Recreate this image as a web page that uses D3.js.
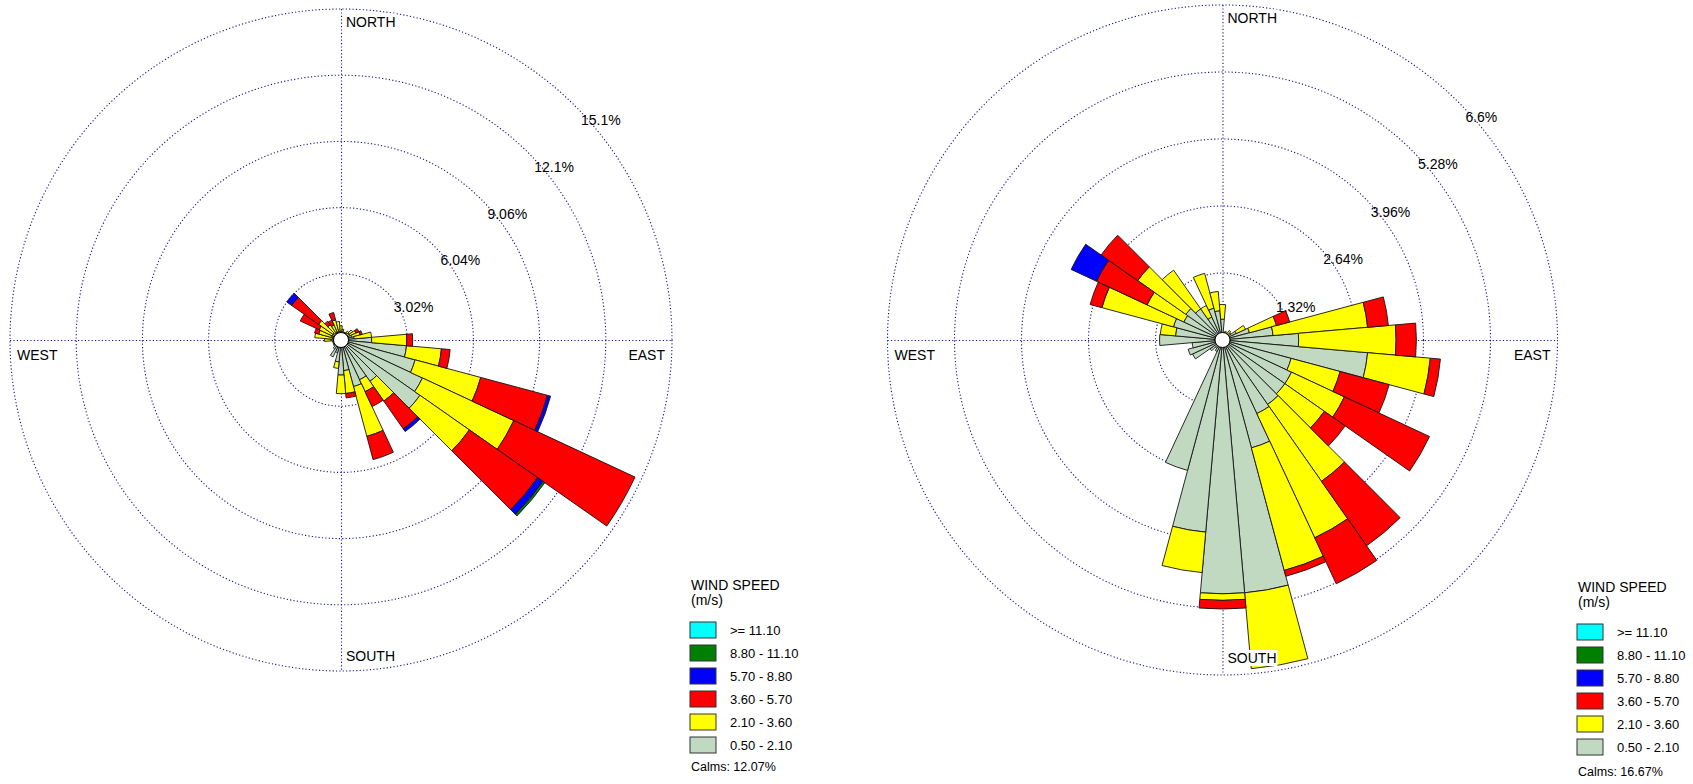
<!DOCTYPE html>
<html>
<head>
<meta charset="utf-8">
<script src="https://cdn.jsdelivr.net/npm/d3@7"></script>
<style>
  body { margin: 0; background: #fff; }
  svg { display: block; }
  text { font-family: "Liberation Sans", Arial, sans-serif; fill: #000; }
</style>
</head>
<body>
<svg id="chart" width="1693" height="784"></svg>
<script>
// Wind direction sectors (degrees, blowing from), 10° bins
const directions = d3.range(10, 361, 10);

// Speed classes (m/s), lowest first, and their fills
const speedKeys = ["s050", "s210", "s360", "s570", "s880", "s1110"];
const speedLabels = ["0.50 - 2.10", "2.10 - 3.60", "3.60 - 5.70", "5.70 - 8.80", "8.80 - 11.10", ">= 11.10"];
const speedColors = ["#c1d9c1", "#ffff00", "#ff0000", "#0000ff", "#008000", "#00ffff"];

// Station A — frequency (%) per sector and speed class
//                 10    20    30    40    50    60    70    80    90   100   110   120   130   140   150   160   170   180   190   200   210   220   230   240   250   260   270   280   290   300   310   320   330   340   350   360
const stationA_050 = [0.40, 0.35, 0.35, 0.40, 0.45, 0.45, 0.50, 0.60, 1.40, 3.00, 3.50, 4.10, 4.40, 2.30, 2.00, 2.20, 1.40, 1.60, 1.00, 0.60, 0.85, 0.50, 0.40, 0.40, 0.35, 0.40, 0.45, 0.40, 0.45, 0.45, 0.45, 0.40, 0.40, 0.40, 0.40, 0.40];
const stationA_210 = [0.10, 0.00, 0.05, 0.10, 0.20, 0.30, 0.40, 0.80, 1.60, 1.60, 3.10, 4.60, 2.75, 1.10, 0.60, 2.35, 1.05, 0.85, 0.30, 0.00, 0.00, 0.00, 0.00, 0.00, 0.00, 0.00, 0.30, 0.80, 0.60, 0.65, 0.80, 0.45, 0.35, 0.55, 0.45, 0.25];
const stationA_360 = [0.00, 0.00, 0.00, 0.00, 0.00, 0.15, 0.10, 0.00, 0.27, 0.40, 3.15, 6.10, 3.80, 1.55, 0.75, 1.10, 0.20, 0.00, 0.00, 0.00, 0.00, 0.00, 0.00, 0.00, 0.00, 0.00, 0.00, 0.00, 0.20, 0.95, 1.50, 0.20, 0.25, 0.35, 0.00, 0.00];
const stationA_570 = [0.00, 0.00, 0.00, 0.00, 0.00, 0.00, 0.00, 0.00, 0.00, 0.00, 0.15, 0.00, 0.30, 0.15, 0.00, 0.00, 0.00, 0.00, 0.00, 0.00, 0.00, 0.00, 0.00, 0.00, 0.00, 0.00, 0.00, 0.00, 0.00, 0.00, 0.27, 0.00, 0.00, 0.00, 0.00, 0.00];
const stationA_880 = [0.00, 0.00, 0.00, 0.00, 0.00, 0.00, 0.00, 0.00, 0.00, 0.00, 0.00, 0.00, 0.10, 0.00, 0.00, 0.00, 0.00, 0.00, 0.00, 0.00, 0.00, 0.00, 0.00, 0.00, 0.00, 0.00, 0.00, 0.00, 0.00, 0.00, 0.00, 0.00, 0.00, 0.00, 0.00, 0.00];
const stationA_1110 = new Array(36).fill(0);
const stationA_rings = ["3.02%", "6.04%", "9.06%", "12.1%", "15.1%"];
const stationA_calms = "Calms: 12.07%";

// Station B — frequency (%) per sector and speed class
const stationB_050 = [0.15, 0.12, 0.15, 0.15, 0.20, 0.30, 0.55, 1.00, 1.50, 2.87, 1.40, 1.50, 1.50, 1.55, 1.60, 2.20, 5.00, 5.00, 3.80, 2.66, 0.25, 0.20, 0.30, 0.65, 0.70, 0.60, 1.24, 0.93, 1.00, 0.84, 0.88, 0.75, 0.50, 0.65, 0.58, 0.41];
const stationB_210 = [0.00, 0.06, 0.00, 0.08, 0.00, 0.20, 0.55, 1.87, 1.92, 1.24, 1.00, 1.15, 0.95, 1.85, 2.70, 2.50, 1.50, 0.13, 0.80, 0.00, 0.00, 0.00, 0.00, 0.00, 0.00, 0.00, 0.00, 0.30, 1.46, 0.80, 1.16, 0.93, 0.25, 0.71, 0.38, 0.29];
const stationB_360 = [0.00, 0.00, 0.00, 0.00, 0.00, 0.00, 0.27, 0.41, 0.40, 0.20, 1.00, 1.85, 0.50, 1.55, 1.00, 0.12, 0.00, 0.17, 0.00, 0.00, 0.00, 0.00, 0.00, 0.00, 0.00, 0.00, 0.00, 0.00, 0.24, 1.10, 0.88, 0.00, 0.00, 0.00, 0.00, 0.00];
const stationB_570 = [0.00, 0.00, 0.00, 0.00, 0.00, 0.00, 0.00, 0.00, 0.00, 0.00, 0.00, 0.00, 0.00, 0.00, 0.00, 0.00, 0.00, 0.00, 0.00, 0.00, 0.00, 0.00, 0.00, 0.00, 0.00, 0.00, 0.00, 0.00, 0.00, 0.55, 0.00, 0.00, 0.00, 0.00, 0.00, 0.00];
const stationB_880 = new Array(36).fill(0);
const stationB_1110 = new Array(36).fill(0);
const stationB_rings = ["1.32%", "2.64%", "3.96%", "5.28%", "6.6%"];
const stationB_calms = "Calms: 16.67%";

const compassLabels = ["NORTH", "EAST", "SOUTH", "WEST"];

// Layout of the two panels
const panels = [
  { cx: 341, cy: 340, R: 331, step: 3.02,
    series: [stationA_050, stationA_210, stationA_360, stationA_570, stationA_880, stationA_1110],
    rings: stationA_rings, calms: stationA_calms,
    legend: { x: 690, titleY: 590, boxY: 622, calmsY: 771 }, southPad: 10 },
  { cx: 1222.5, cy: 340, R: 335, step: 1.32,
    series: [stationB_050, stationB_210, stationB_360, stationB_570, stationB_880, stationB_1110],
    rings: stationB_rings, calms: stationB_calms,
    legend: { x: 1577, titleY: 592, boxY: 624, calmsY: 776 }, southPad: 12 }
];

const svg = d3.select("#chart");
const holeR = 7.5;
const toRad = Math.PI / 180;
const half = 5; // half-width of a sector, degrees

function labelWithBackground(g, x, y, txt, anchor) {
  const t = g.append("text")
    .attr("x", x).attr("y", y)
    .attr("font-size", 14)
    .attr("text-anchor", anchor || "start")
    .text(txt);
  const b = t.node().getBBox();
  g.insert("rect", function () { return t.node(); })
    .attr("x", b.x - 1).attr("y", b.y)
    .attr("width", b.width + 2).attr("height", b.height)
    .attr("fill", "#fff");
  return t;
}

panels.forEach(p => {
  const g = svg.append("g");
  const rows = directions.map((d, i) => {
    const row = { dir: d };
    speedKeys.forEach((k, j) => row[k] = p.series[j][i]);
    return row;
  });
  const layers = d3.stack().keys(speedKeys)(rows);

  const r = d3.scaleLinear().domain([0, p.step * 5]).range([0, p.R]);
  const ringValues = d3.range(1, 6).map(i => p.step * i);

  // dotted grid rings and axes
  const grid = g.append("g").attr("transform", `translate(${p.cx},${p.cy})`)
    .attr("fill", "none").attr("stroke", "#16168c")
    .attr("stroke-width", 1.1).attr("stroke-dasharray", "1.2,2.2");
  grid.selectAll("circle").data(ringValues).join("circle").attr("r", d => r(d));
  grid.append("line").attr("x1", -p.R).attr("x2", p.R).attr("y1", 0.5).attr("y2", 0.5);
  grid.append("line").attr("y1", -p.R).attr("y2", p.R).attr("x1", 0.5).attr("x2", 0.5);

  // stacked sector bars
  const arc = d3.arc()
    .innerRadius(d => Math.max(holeR, r(d[0])))
    .outerRadius(d => Math.max(holeR, r(d[1])))
    .startAngle(d => (d.data.dir - half) * toRad)
    .endAngle(d => (d.data.dir + half) * toRad);

  const bars = g.append("g").attr("transform", `translate(${p.cx},${p.cy})`);
  layers.forEach((layer, j) => {
    bars.append("g")
      .attr("fill", speedColors[j])
      .attr("stroke", "#141414").attr("stroke-width", 0.9).attr("stroke-linejoin", "miter")
      .selectAll("path")
      .data(layer.filter(d => r(d[1]) - Math.max(holeR, r(d[0])) > 0.01 && d[1] > d[0]))
      .join("path")
      .attr("d", arc);
  });

  // calm circle
  g.append("circle").attr("cx", p.cx).attr("cy", p.cy).attr("r", holeR)
    .attr("fill", "#fff").attr("stroke", "#000").attr("stroke-width", 1);

  // ring labels along the NE diagonal
  g.selectAll("text.ring").data(ringValues).join("text")
    .attr("class", "ring")
    .attr("font-size", 14)
    .attr("x", d => p.cx + r(d) * Math.SQRT1_2 + 6)
    .attr("y", d => p.cy - r(d) * Math.SQRT1_2 + 19)
    .text((d, i) => p.rings[i]);

  // compass labels
  labelWithBackground(g, p.cx + 5, p.cy - p.R + 17.5, compassLabels[0]);
  labelWithBackground(g, p.cx + p.R - 7, p.cy + 20, compassLabels[1], "end");
  labelWithBackground(g, p.cx + 5, p.cy + p.R - p.southPad, compassLabels[2]);
  labelWithBackground(g, p.cx - p.R + 7, p.cy + 20, compassLabels[3]);

  // legend
  const L = p.legend;
  const lg = g.append("g");
  lg.append("text").attr("x", L.x + 1).attr("y", L.titleY).attr("font-size", 14).text("WIND SPEED");
  lg.append("text").attr("x", L.x + 1).attr("y", L.titleY + 15).attr("font-size", 14).text("(m/s)");
  const order = d3.range(speedKeys.length).reverse();
  const item = lg.selectAll("g.item").data(order).join("g")
    .attr("class", "item")
    .attr("transform", (d, i) => `translate(${L.x},${L.boxY + i * 23})`);
  item.append("rect").attr("width", 26).attr("height", 16)
    .attr("fill", d => speedColors[d]).attr("stroke", "#333").attr("stroke-width", 1);
  item.append("text").attr("x", 40).attr("y", 13).attr("font-size", 13)
    .text(d => speedLabels[d]);
  lg.append("text").attr("x", L.x + 1).attr("y", L.calmsY).attr("font-size", 12.5).text(p.calms);
});
</script>
</body>
</html>
